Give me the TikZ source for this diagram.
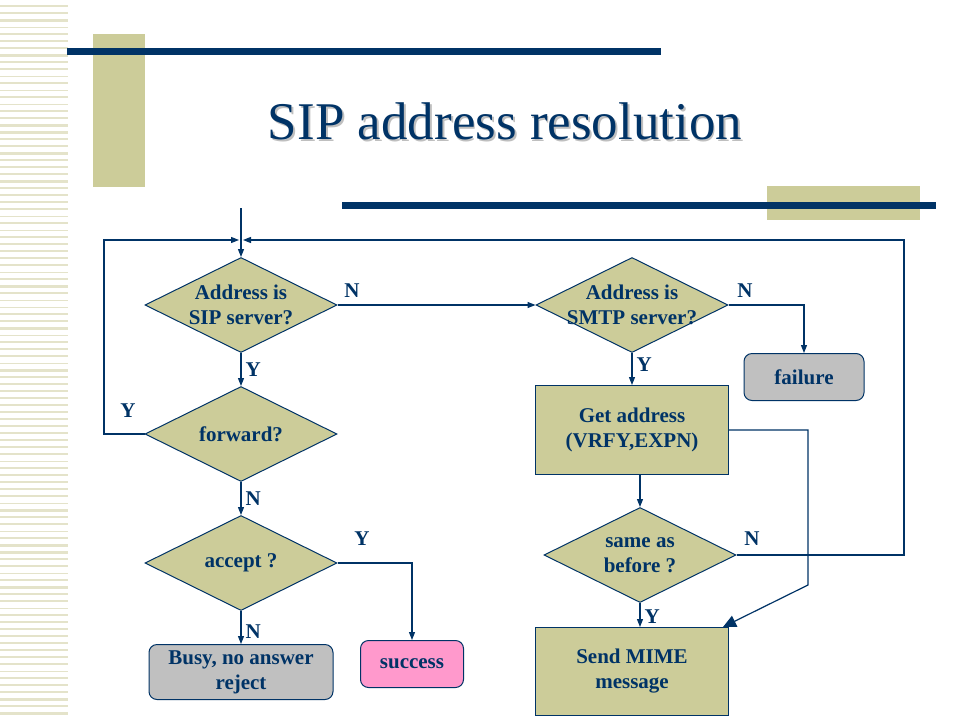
\documentclass[tikz,border=0pt]{standalone}
\usepackage{fontspec}
\setmainfont{Liberation Serif}
\usetikzlibrary{shapes.geometric,positioning,arrows.meta}

\definecolor{navy}{RGB}{0,51,102}
\definecolor{khaki}{RGB}{204,204,153}
\definecolor{stripe}{RGB}{228,227,202}
\definecolor{greybox}{RGB}{192,192,192}
\definecolor{pinkbox}{RGB}{255,153,204}

\newcommand{\boxfont}{\fontsize{21}{25}\selectfont\bfseries}

\tikzset{
  decision/.style={diamond, draw=navy, fill=khaki, line width=1pt,
    minimum width=192pt, minimum height=95pt, inner sep=0pt},
  dtext/.style={text=navy, font=\boxfont, align=center},
  action/.style={rectangle, draw=navy, fill=khaki, line width=1pt,
    minimum width=193pt, minimum height=89pt, inner sep=0pt,
    text=navy, font=\boxfont, align=center},
  outcome/.style={rectangle, rounded corners=8pt, draw=navy, line width=1pt,
    inner sep=0pt, text=navy, font=\boxfont, align=center},
  flow/.style={draw=navy, line width=1.2pt, -{Triangle[length=8pt,width=6pt]}},
  bigflow/.style={draw=navy, line width=1.2pt, -{Triangle[length=13pt,width=12pt]}},
  lbl/.style={text=navy, font=\fontsize{21}{21}\selectfont\bfseries, inner sep=4pt}
}

\begin{document}
\begin{tikzpicture}[x=1pt, y=-1pt]
  \useasboundingbox (0,0) rectangle (960,720);
  \fill[white] (0,0) rectangle (960,720);

  % slide decoration
  \pgfmathsetseed{11}
  \foreach \y in {6,13,...,716} {
    \pgfmathsetmacro\w{random(1,5)*0.6}
    \draw[stripe, line width=\w pt] (0,\y) -- (68,\y);
  }
  \fill[khaki] (93,34) rectangle (145,187);
  \fill[khaki] (767,186) rectangle (920,220);
  \fill[navy] (67,48) rectangle (661,55);
  \fill[navy] (342,202) rectangle (936,209);
  \node[text=navy, font=\fontsize{53}{53}\selectfont] (title) at (505,122)
    {\rlap{\hspace{2pt}\raisebox{-2pt}{\color{black!25}SIP address resolution}}SIP address resolution};

  % left column
  \node[decision, label={[dtext]center:Address is\\SIP server?}] (sip) at (241,305) {};
  \node[decision, below = 33pt of sip, label={[dtext]center:forward?}] (fwd) {};
  \node[decision, below = 33pt of fwd, label={[dtext]center:accept ?}] (acc) {};
  \node[outcome, fill=greybox, minimum width=184pt, minimum height=55pt,
    below = 33pt of acc] (busy) {Busy, no answer\\reject};
  \node[outcome, fill=pinkbox, minimum width=103pt, minimum height=47pt] (succ) at (412,664) {success};

  % right column
  \node[decision, label={[dtext]center:Address is\\SMTP server?}] (smtp) at (632,305) {};
  \node[outcome, fill=greybox, minimum width=120pt, minimum height=47pt] (fail) at (804,377) {failure};
  \node[action, below = 32pt of smtp] (get) {Get address\\(VRFY,EXPN)};
  \node[decision, below = 32pt of get, xshift=8pt, label={[dtext]center:same as\\before ?}] (same) {};
  \node[action, minimum height=88pt, below = 24pt of same, xshift=-8pt] (send) {Send MIME\\message};

  \coordinate (start) at (241,208);
  \coordinate (join) at (241,240);

  \draw[flow] (start) -- (sip.north);
  \draw[flow] (sip) -- node[lbl, right] (ysip) {Y} (fwd);
  \draw[flow] (fwd) -- node[lbl, right] (nfwd) {N} (acc);
  \draw[flow] (acc) -- node[lbl, right, yshift=-4pt] (nacc) {N} (busy);
  \draw[flow] (acc.east) -| (succ.north);
  \draw[flow] (fwd.west) -| (104,240) -- ([xshift=-2pt]join);
  \draw[flow] (sip.east) -- (smtp.west);
  \draw[flow] (smtp.east) -| (fail.north);
  \draw[flow] (smtp) -- node[lbl, right, yshift=4pt] (ysmtp) {Y} (get);
  \draw[flow] (get.south -| same.north) -- (same.north);
  \draw[flow] (same.south) -- node[lbl, right, yshift=-2pt] (ysame) {Y} (same.south |- send.north);
  \draw[flow] (same.east) -| (904,240) -- ([xshift=2pt]join);
  \draw[bigflow] (get.east) -| (808,585) -- ([xshift=-6pt]send.north east);

  \node[lbl] (nsip) at (352,291) {N};
  \node[lbl] (yfwd) at (128,411) {Y};
  \node[lbl] (yacc) at (362,539) {Y};
  \node[lbl] (nsmtp) at (745,291) {N};
  \node[lbl] (nsame) at (752,539) {N};

\end{tikzpicture}
\end{document}
